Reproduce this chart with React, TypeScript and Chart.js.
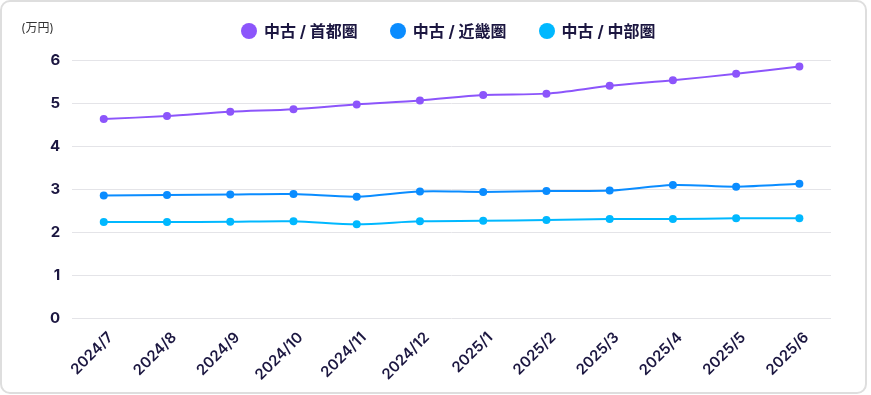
import React, { useEffect, useRef } from "react";
import { Chart, registerables } from "chart.js";

Chart.register(...registerables);

const categories = ["2024/7", "2024/8", "2024/9", "2024/10", "2024/11", "2024/12", "2025/1", "2025/2", "2025/3", "2025/4", "2025/5", "2025/6"];
const shutoken = [4.63, 4.7, 4.8, 4.86, 4.97, 5.06, 5.19, 5.22, 5.4, 5.53, 5.68, 5.85];
const kinki = [2.855, 2.87, 2.88, 2.89, 2.83, 2.95, 2.94, 2.96, 2.97, 3.1, 3.06, 3.13];
const chubu = [2.24, 2.24, 2.25, 2.26, 2.19, 2.26, 2.27, 2.29, 2.31, 2.31, 2.33, 2.33];
const seriesNames = ["中古 / 首都圏", "中古 / 近畿圏", "中古 / 中部圏"];
const seriesColors = ["#8c55fb", "#0a8cff", "#00b8ff"];
const yTicks = [0, 1, 2, 3, 4, 5, 6];
const unitLabel = "(万円)";

const TEXT = "#1b1640";
const FONT = "Inter, 'Noto Sans CJK JP', sans-serif";

export default function App() {
  const ref = useRef<HTMLCanvasElement | null>(null);

  useEffect(() => {
    document.body.style.margin = "0";
    const ctx = ref.current;
    if (!ctx) return;
    const all = [shutoken, kinki, chubu];
    const chart = new Chart(ctx, {
      type: "line",
      data: {
        labels: categories,
        datasets: all.map((d, i) => ({
          label: seriesNames[i],
          data: d,
          borderColor: seriesColors[i],
          backgroundColor: seriesColors[i],
          borderWidth: 2,
          pointRadius: 4,
          pointHoverRadius: 4,
          pointBorderWidth: 0,
          tension: 0.3,
          fill: false,
        })),
      },
      options: {
        responsive: false,
        animation: false,
        layout: { padding: { left: 38, right: 40, top: 60, bottom: 1 } },
        plugins: {
          legend: { display: false },
          tooltip: { enabled: false },
        },
        scales: {
          x: {
            offset: true,
            grid: { display: false, drawTicks: false },
            border: { display: false },
            afterFit: (s: any) => {
              s.paddingLeft = 0;
              s.paddingRight = 0;
            },
            ticks: {
              minRotation: 45,
              maxRotation: 45,
              color: TEXT,
              padding: 10,
              labelOffset: 7,
              font: { family: FONT, size: 15, weight: 600 },
            },
          },
          y: {
            min: yTicks[0],
            max: yTicks[yTicks.length - 1],
            afterBuildTicks: (scale: any) => {
              scale.ticks = yTicks.map((v) => ({ value: v }));
            },
            grid: { color: "#e4e4e8", lineWidth: 1, drawTicks: false },
            border: { display: false },
            ticks: {
              color: TEXT,
              padding: 12,
              font: { family: FONT, size: 15, weight: 700 },
            },
          },
        },
      },
    });
    return () => chart.destroy();
  }, []);

  return (
    <div style={{ position: "relative", width: 871, height: 395, fontFamily: FONT }}>
      <div
        style={{
          position: "absolute",
          left: 0,
          top: 0,
          width: 867,
          height: 394,
          boxSizing: "border-box",
          border: "2px solid #dedede",
          borderRadius: 10,
          background: "#fff",
        }}
      />
      <canvas ref={ref} width={871} height={395} style={{ position: "absolute", left: 0, top: 0 }} />
      <div
        style={{
          position: "absolute",
          left: 21,
          top: 21,
          fontSize: 12,
          color: "#333",
          lineHeight: "14px",
        }}
      >
        {unitLabel}
      </div>
      <div
        style={{
          position: "absolute",
          left: 241,
          top: 22,
          display: "flex",
          gap: 32,
          alignItems: "center",
        }}
      >
        {seriesNames.map((n, i) => (
          <div key={n} style={{ display: "flex", alignItems: "center" }}>
            <span
              style={{
                display: "inline-block",
                width: 16,
                height: 16,
                borderRadius: 8,
                background: seriesColors[i],
                marginRight: 7,
              }}
            />
            <span style={{ fontSize: 16, fontWeight: 700, color: TEXT, lineHeight: "18px" }}>{n}</span>
          </div>
        ))}
      </div>
    </div>
  );
}
